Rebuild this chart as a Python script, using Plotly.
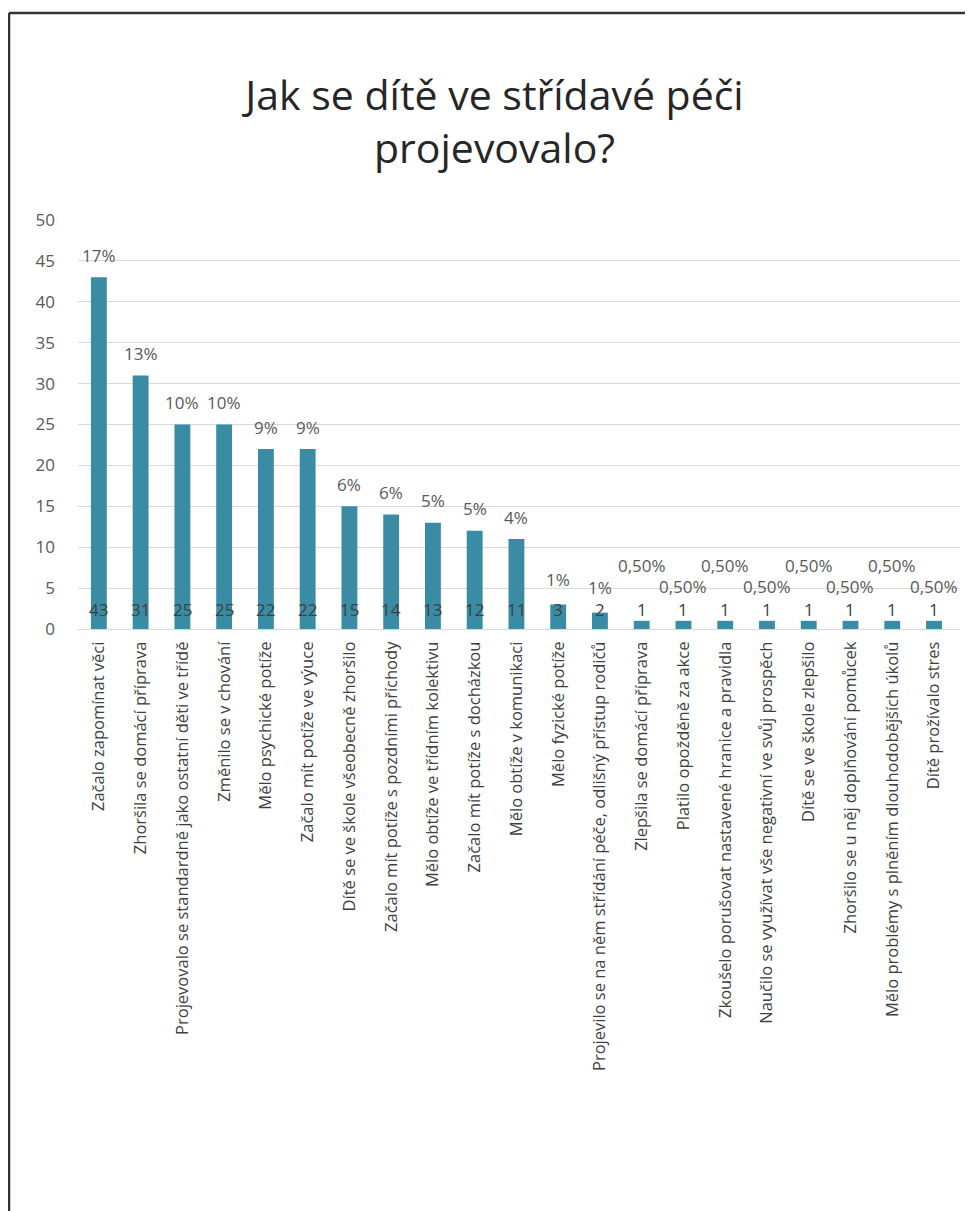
import plotly.graph_objects as go

categories = [
    "Začalo zapomínat věci",
    "Zhoršila se domácí příprava",
    "Projevovalo se standardně jako ostatní děti ve třídě",
    "Změnilo se v chování",
    "Mělo psychické potíže",
    "Začalo mít potíže ve výuce",
    "Dítě se ve škole všeobecně zhoršilo",
    "Začalo mít potíže s pozdními příchody",
    "Mělo obtíže ve třídním kolektivu",
    "Začalo mít potíže s docházkou",
    "Mělo obtíže v komunikaci",
    "Mělo fyzické potíže",
    "Projevilo se na něm střídání péče, odlišný přístup rodičů",
    "Zlepšila se domácí příprava",
    "Platilo opožděně za akce",
    "Zkoušelo porušovat nastavené hranice a pravidla",
    "Naučilo se využívat vše negativní ve svůj prospěch",
    "Dítě se ve škole zlepšilo",
    "Zhoršilo se u něj doplňování pomůcek",
    "Mělo problémy s plněním dlouhodobějších úkolů",
    "Dítě prožívalo stres",
]
counts = [43, 31, 25, 25, 22, 22, 15, 14, 13, 12, 11, 3, 2, 1, 1, 1, 1, 1, 1, 1, 1]
percent_labels = ["17%", "13%", "10%", "10%", "9%", "9%", "6%", "6%", "5%", "5%", "4%",
                  "1%", "1%", "0,50%", "0,50%", "0,50%", "0,50%", "0,50%", "0,50%", "0,50%", "0,50%"]
y_ticks = [0, 5, 10, 15, 20, 25, 30, 35, 40, 45, 50]

BAR = "#3A8CA5"
TXT = "#595959"
FONT = "Open Sans"

# layout geometry (figure pixels)
ML, MR, MT, MB = 70, 21, 212, 590
W, H = 973, 1211
PW, PH = W - ML - MR, H - MT - MB

fig = go.Figure()
fig.add_trace(go.Bar(
    x=categories, y=counts, marker_color=BAR, marker_line_width=0,
    hoverinfo="x+y",
))

annotations = []
for i, (c, v, p) in enumerate(zip(categories, counts, percent_labels)):
    # count label near the base
    annotations.append(dict(x=c, y=0, text=str(v), showarrow=False, yshift=20,
                            font=dict(family=FONT, size=17, color="#404040")))
    # percent label above bar (alternating heights where they would collide)
    if p == "0,50%":
        shift = 55 if (i % 2 == 1) else 34
    elif p == "1%":
        shift = 25
    else:
        shift = 22
    annotations.append(dict(x=c, y=v, text=p, showarrow=False, yshift=shift,
                            font=dict(family=FONT, size=17, color=TXT)))

fx = (1 - ML) / PW
fy = (H - MB - 5) / PH
fig.update_layout(
    width=W, height=H,
    margin=dict(l=ML, r=MR, t=MT, b=MB),
    paper_bgcolor="white", plot_bgcolor="white",
    title=dict(text="Jak se dítě ve střídavé péči<br>projevovalo?", x=0.5, xanchor="center",
               y=1 - 102 / H, yanchor="top",
               font=dict(family=FONT, size=41, color="#262626")),
    bargap=0.62,
    showlegend=False,
    annotations=annotations,
    shapes=[
        dict(type="line", xref="paper", yref="paper", x0=fx, x1=1.05,
             y0=fy, y1=fy, line=dict(color="#333333", width=2.5)),
        dict(type="line", xref="paper", yref="paper", x0=fx, x1=fx,
             y0=fy, y1=-1.5, line=dict(color="#333333", width=2.5)),
    ],
)
fig.update_yaxes(range=[0, 50], tickvals=y_ticks, showgrid=True, gridcolor="#D9D9D9",
                 zeroline=False, showline=False, ticks="",
                 tickfont=dict(family=FONT, size=17, color=TXT), ticklabelstandoff=22)
fig.update_xaxes(tickangle=-90, showline=True, linecolor="#D9D9D9", ticks="",
                 tickfont=dict(family=FONT, size=16.5, color="#404040"), ticklabelstandoff=5)

fig.write_html("out.html")
